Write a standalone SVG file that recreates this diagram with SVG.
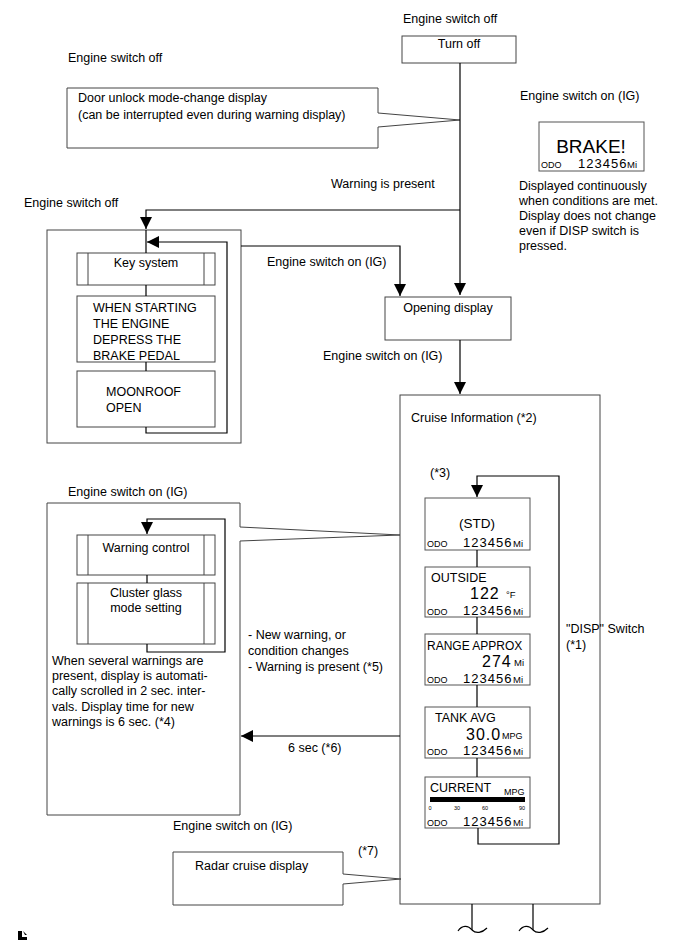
<svg xmlns="http://www.w3.org/2000/svg" width="691" height="952" viewBox="0 0 691 952">
<defs>
<style>
text{font-family:"Liberation Sans",Arial,sans-serif;fill:#000}
.t{font-size:12.5px}
.c{text-anchor:middle}
.box{fill:#fff;stroke:#444;stroke-width:1}
.grp{fill:none;stroke:#444;stroke-width:1}
.dbox{fill:#fff;stroke:#555;stroke-width:1}
.ln{fill:none;stroke:#000;stroke-width:1.2}
.odo{font-size:9px}
.num{font-size:13px;letter-spacing:1px}
.mi{font-size:9.5px}
.lab{font-size:12.5px}
.big{font-size:16px;letter-spacing:1px}
</style>
<marker id="ah" viewBox="0 0 10 10" refX="10" refY="5" markerWidth="12" markerHeight="12" markerUnits="userSpaceOnUse" orient="auto"><path d="M0,0 L10,5 L0,10 Z" fill="#000"/></marker>
</defs>
<rect width="691" height="952" fill="#fff"/>

<g id="labels">
<text class="t" x="403" y="22.5">Engine switch off</text>
<text class="t" x="68" y="62">Engine switch off</text>
<text class="t" x="520" y="99.5">Engine switch on (IG)</text>
<text class="t" x="331" y="187.5">Warning is present</text>
<text class="t" x="24" y="206.5">Engine switch off</text>
<text class="t" x="267" y="265.5">Engine switch on (IG)</text>
<text class="t" x="323" y="359.5">Engine switch on (IG)</text>
<text class="t" x="68" y="495.5">Engine switch on (IG)</text>
<text class="t" x="248" y="638.5">- New warning, or</text>
<text class="t" x="248" y="654.5">condition changes</text>
<text class="t" x="248" y="670.5">- Warning is present (*5)</text>
<text class="t" x="288" y="751.5">6 sec (*6)</text>
<text class="t" x="173" y="829.5">Engine switch on (IG)</text>
<text class="t" x="358" y="854.5">(*7)</text>
</g>

<g id="turn-off">
<rect class="box" x="402" y="36" width="114" height="27"/>
<text class="t c" x="459" y="47.5">Turn off</text>
</g>

<g id="door-unlock">
<path class="box" d="M67,88 H378 V113 L460,120 L378,127 V148 H67 Z"/>
<text class="t" x="78" y="101.5">Door unlock mode-change display</text>
<text class="t" x="78" y="118.5">(can be interrupted even during warning display)</text>
</g>

<g id="brake">
<rect class="dbox" x="539" y="122" width="105" height="49"/>
<text class="c" x="591" y="153" style="font-size:19px">BRAKE!</text>
<text class="odo" x="541" y="168">ODO</text>
<text class="num" x="578" y="168">123456</text>
<text class="mi" x="627" y="168">Mi</text>
<text class="t" x="519" y="189.5">Displayed continuously</text>
<text class="t" x="519" y="204.5">when conditions are met.</text>
<text class="t" x="519" y="219.5">Display does not change</text>
<text class="t" x="519" y="234.5">even if DISP switch is</text>
<text class="t" x="519" y="249.5">pressed.</text>
</g>

<g id="key-group">
<rect class="grp" x="47" y="230" width="194" height="213"/>
</g>
<g id="key-system">
<rect class="box" x="77" y="253" width="138" height="32"/>
<path d="M88,253 V285 M204,253 V285" stroke="#444" fill="none"/>
<text class="t c" x="146" y="266.5">Key system</text>
</g>
<g id="when-starting">
<rect class="box" x="77" y="296" width="138" height="66"/>
<text class="t" x="93" y="311.5">WHEN STARTING</text>
<text class="t" x="93" y="327.5">THE ENGINE</text>
<text class="t" x="93" y="343.5">DEPRESS THE</text>
<text class="t" x="93" y="359.5">BRAKE PEDAL</text>
</g>
<g id="moonroof">
<rect class="box" x="77" y="371" width="138" height="56"/>
<text class="t" x="106" y="395.5">MOONROOF</text>
<text class="t" x="106" y="411.5">OPEN</text>
</g>

<g id="opening-display">
<rect class="box" x="385" y="297" width="126" height="43"/>
<text class="t c" x="448" y="311.5">Opening display</text>
</g>

<g id="cruise-info">
<rect class="grp" x="400" y="395" width="200" height="509"/>
<text class="t" x="411" y="421.5">Cruise Information (*2)</text>
<text class="t" x="430" y="476.5">(*3)</text>
<text class="t" x="566" y="632.5">"DISP" Switch</text>
<text class="t" x="566" y="648.5">(*1)</text>
</g>

<g id="std">
<rect class="dbox" x="425" y="498" width="105" height="52"/>
<text class="c" x="477" y="528" style="font-size:13.5px">(STD)</text>
<text class="odo" x="427" y="547">ODO</text>
<text class="num" x="463" y="547">123456</text>
<text class="mi" x="513" y="547">Mi</text>
</g>
<g id="outside">
<rect class="dbox" x="425" y="567" width="105" height="50"/>
<text class="lab" x="431" y="582">OUTSIDE</text>
<text class="big" x="470" y="599">122</text>
<text style="font-size:9.5px" x="506" y="598">°F</text>
<text class="odo" x="427" y="615">ODO</text>
<text class="num" x="463" y="615">123456</text>
<text class="mi" x="513" y="615">Mi</text>
</g>
<g id="range">
<rect class="dbox" x="425" y="634" width="105" height="51"/>
<text style="font-size:12px" x="427" y="650">RANGE APPROX</text>
<text class="big" x="482" y="667">274</text>
<text class="mi" x="514" y="666">Mi</text>
<text class="odo" x="427" y="682.5">ODO</text>
<text class="num" x="463" y="682.5">123456</text>
<text class="mi" x="513" y="682.5">Mi</text>
</g>
<g id="tank">
<rect class="dbox" x="425" y="707" width="105" height="51"/>
<text class="lab" x="435" y="722">TANK AVG</text>
<text class="big" x="466" y="739.5">30.0</text>
<text class="odo" x="502" y="738.5">MPG</text>
<text class="odo" x="427" y="755">ODO</text>
<text class="num" x="463" y="755">123456</text>
<text class="mi" x="513" y="755">Mi</text>
</g>
<g id="current">
<rect class="dbox" x="425" y="777" width="105" height="51"/>
<text class="lab" x="430" y="792">CURRENT</text>
<text class="odo" x="504" y="795">MPG</text>
<rect x="430" y="797" width="95" height="5" fill="#000"/>
<text style="font-size:5.5px" x="428.5" y="810">0</text>
<text style="font-size:5.5px" x="454" y="810">30</text>
<text style="font-size:5.5px" x="482" y="810">60</text>
<text style="font-size:5.5px" x="519" y="810">90</text>
<text class="odo" x="427" y="826">ODO</text>
<text class="num" x="463" y="826">123456</text>
<text class="mi" x="513" y="826">Mi</text>
</g>

<g id="warning-group">
<path class="grp" d="M47,503 H240 V527 L400,535 L240,541 V815 H47 Z"/>
<text class="t" x="52" y="664.5">When several warnings are</text>
<text class="t" x="52" y="679.5">present, display is automati-</text>
<text class="t" x="52" y="694.5">cally scrolled in 2 sec. inter-</text>
<text class="t" x="52" y="710.5">vals. Display time for new</text>
<text class="t" x="52" y="725.5">warnings is 6 sec. (*4)</text>
</g>
<g id="warning-control">
<rect class="box" x="77" y="535" width="138" height="40"/>
<path d="M88,535 V575 M204,535 V575" stroke="#444" fill="none"/>
<text class="t c" x="146" y="551.5">Warning control</text>
</g>
<g id="cluster-glass">
<rect class="box" x="77" y="583" width="138" height="61"/>
<path d="M88,583 V644 M204,583 V644" stroke="#444" fill="none"/>
<text class="t c" x="146" y="596.5">Cluster glass</text>
<text class="t c" x="146" y="611.5">mode setting</text>
</g>

<g id="radar">
<path class="box" d="M173,852 H343 V874 L401,879 L343,884 V905 H173 Z"/>
<text class="t" x="195" y="869.5">Radar cruise display</text>
</g>

<g id="icon">
<path d="M18,931 H22 V937 H27 V940 H18 Z M23,931 L27,935 H25 Z" fill="#000"/>
</g>

<g id="connectors">
<path class="ln" d="M460,63 V295" marker-end="url(#ah)"/>
<path class="ln" d="M460,210 H146 V229" marker-end="url(#ah)"/>
<path class="ln" d="M460,340 V394" marker-end="url(#ah)"/>
<path class="ln" d="M241,246 H400 V296" marker-end="url(#ah)"/>
<path class="ln" d="M146,230 V253 M146,285 V296 M146,362 V371"/>
<path class="ln" d="M146,427 V433 H227 V242 H147" marker-end="url(#ah)"/>
<path class="ln" d="M147,575 V583"/>
<path class="ln" d="M147,644 V652 H225 V519 H147 V534" marker-end="url(#ah)"/>
<path class="ln" d="M477,550 V567 M477,617 V634 M477,685 V707 M477,758 V777"/>
<path class="ln" d="M478,828 V844 H559 V476 H477 V497" marker-end="url(#ah)"/>
<path class="ln" d="M400,736 H241" marker-end="url(#ah)"/>
<path class="ln" d="M472,904 V930 M533,904 V930"/>
<path class="ln" d="M458,931 C462,925 468,925 472,930 C476,934 482,933 487,928 M519,931 C523,925 529,925 533,930 C537,934 543,933 548,928" stroke-width="0.9"/>
</g>
</svg>
